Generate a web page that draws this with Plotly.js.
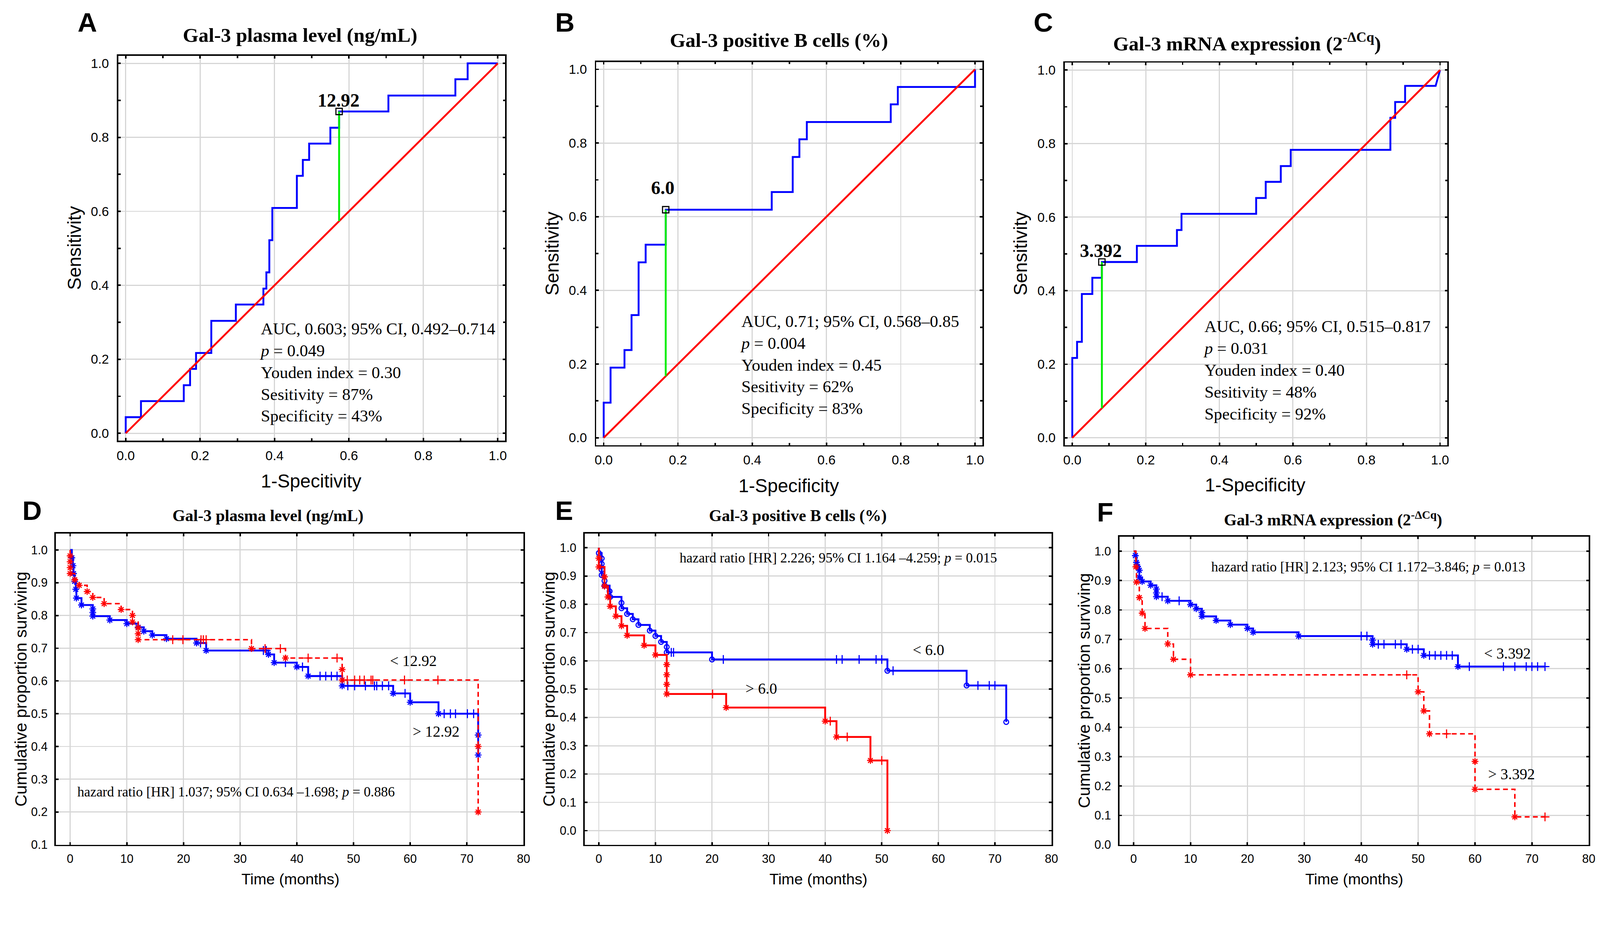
<!DOCTYPE html>
<html>
<head>
<meta charset="utf-8">
<script src="https://cdn.plot.ly/plotly-3.0.1.min.js"></script>
<style>html,body{margin:0;padding:0;background:#fff;overflow:hidden}#chart{width:4288px;height:2409px;transform-origin:0 0}</style>
</head>
<body>
<div id="chart"></div>
<script>
// ---------------- DATA ----------------
// ROC A: Gal-3 plasma level
const rocA_fpr = [0, 0.041, 0.156, 0.173, 0.189, 0.230, 0.296, 0.370, 0.378, 0.386, 0.394, 0.460, 0.476, 0.493, 0.550, 0.5735, 0.706, 0.886, 0.919, 1.0];
const rocA_tpr = [0, 0.0435, 0.087, 0.130, 0.174, 0.217, 0.304, 0.348, 0.391, 0.435, 0.522, 0.609, 0.696, 0.739, 0.783, 0.826, 0.870, 0.913, 0.957, 1.0];
const cutA_fpr = 0.5735, cutA_tpr = 0.870, cutA_label = '12.92';
const statsA = ['AUC, 0.603; 95% CI, 0.492\u20130.714', '<i>p</i> = 0.049', 'Youden index = 0.30', 'Sesitivity = 87%', 'Specificity = 43%'];
// ROC B: Gal-3 positive B cells
const rocB_fpr = [0, 0.0185, 0.056, 0.075, 0.094, 0.113, 0.167, 0.4525, 0.509, 0.527, 0.547, 0.773, 0.792, 1.0, 1.0];
const rocB_tpr = [0, 0.0952, 0.1905, 0.238, 0.333, 0.476, 0.524, 0.619, 0.667, 0.762, 0.810, 0.857, 0.905, 0.952, 1.0];
const cutB_fpr = 0.167, cutB_tpr = 0.619, cutB_label = '6.0';
const statsB = ['AUC, 0.71; 95% CI, 0.568\u20130.85', '<i>p</i> = 0.004', 'Youden index = 0.45', 'Sesitivity = 62%', 'Specificity = 83%'];
// ROC C: Gal-3 mRNA expression
const rocC_fpr = [0, 0.013, 0.026, 0.0545, 0.0805, 0.1756, 0.2846, 0.297, 0.500, 0.526, 0.567, 0.594, 0.865, 0.878, 0.905, 0.988, 1.0];
const rocC_tpr = [0, 0.217, 0.261, 0.391, 0.435, 0.478, 0.522, 0.565, 0.609, 0.652, 0.696, 0.739, 0.783, 0.870, 0.913, 0.957, 1.0];
const cutC_fpr = 0.0805, cutC_tpr = 0.478, cutC_label = '3.392';
const statsC = ['AUC, 0.66; 95% CI, 0.515\u20130.817', '<i>p</i> = 0.031', 'Youden index = 0.40', 'Sesitivity = 48%', 'Specificity = 92%'];
const diagRef = [0, 1];

// KM D: Gal-3 plasma level
const kmD_hi_t = [0, 0.3, 0.5, 0.6, 0.8, 1.0, 1.1, 2.0, 4.0, 4.0, 4.0, 7.0, 10.0, 12.0, 13.0, 14.5, 17.0, 22.3, 24.0, 35.0, 36.0, 40.0, 42.0, 48.0, 57.0, 60.0, 65.0, 72.0, 72.0];
const kmD_hi_s = [1.0, 0.976, 0.952, 0.928, 0.904, 0.880, 0.853, 0.832, 0.820, 0.809, 0.798, 0.786, 0.775, 0.764, 0.752, 0.740, 0.729, 0.716, 0.693, 0.681, 0.656, 0.643, 0.615, 0.585, 0.562, 0.535, 0.500, 0.435, 0.374];
const kmD_hi_cens = [23.0, 34.1, 34.6, 38.0, 41.0, 44.1, 45.1, 46.1, 47.1, 49.0, 50.2, 52.1, 53.7, 54.1, 55.1, 56.2, 59.1, 66.0, 67.1, 68.0, 70.1, 71.2];
const kmD_hi_end = 72.0;
const kmD_lo_t = [0, 0, 0, 0, 0, 0.8, 1.6, 3.0, 4.0, 6.0, 9.0, 11.0, 11.0, 12.0, 12.0, 12.0, 32.0, 38.0, 48.0, 48.0, 72.0, 72.0];
const kmD_lo_s = [1.0, 0.982, 0.964, 0.946, 0.928, 0.909, 0.892, 0.873, 0.855, 0.836, 0.818, 0.800, 0.780, 0.762, 0.744, 0.726, 0.699, 0.670, 0.635, 0.603, 0.400, 0.200];
const kmD_lo_cens = [18.1, 19.9, 23.1, 23.5, 24.0, 34.4, 37.1, 42.0, 47.1, 48.9, 50.2, 51.1, 51.9, 53.1, 53.4, 59.0, 64.9];
const kmD_lo_end = 72.0;
const hrD = 'hazard ratio [HR] 1.037; 95% CI 0.634 \u20131.698; <i>p</i> = 0.886';
const grpD = ['< 12.92', '> 12.92'];

// KM E: Gal-3 positive B cells
const kmE_lo_t = [0, 0, 0.5, 0.5, 0.5, 0.5, 1.0, 1.0, 1.9, 2.0, 4.0, 4.0, 5.0, 6.0, 7.0, 9.0, 10.0, 11.0, 12.0, 12.0, 20.0, 51.0, 65.0, 72.0];
const kmE_lo_s = [1.0, 0.981, 0.962, 0.943, 0.922, 0.903, 0.883, 0.866, 0.846, 0.826, 0.805, 0.786, 0.766, 0.747, 0.727, 0.707, 0.688, 0.667, 0.649, 0.630, 0.605, 0.565, 0.513, 0.384];
const kmE_lo_cens = [12.8, 13.2, 22.0, 42.0, 43.0, 46.0, 49.0, 50.0, 52.0, 67.0, 69.0, 70.0];
const kmE_lo_end = 72.0;
const kmE_hi_t = [0, 0, 0, 1.0, 1.0, 1.6, 2.0, 3.0, 4.0, 5.0, 8.0, 10.0, 12.0, 12.0, 12.0, 12.0, 22.5, 40.0, 42.0, 48.0, 51.0];
const kmE_hi_s = [1.0, 0.963, 0.932, 0.897, 0.864, 0.826, 0.793, 0.758, 0.724, 0.690, 0.655, 0.621, 0.587, 0.551, 0.517, 0.483, 0.435, 0.387, 0.331, 0.248, 0.0];
const kmE_hi_cens = [20.1, 40.9, 43.9, 50.0];
const kmE_hi_end = 51.0;
const hrE = 'hazard ratio [HR] 2.226; 95% CI 1.164 \u20134.259; <i>p</i> = 0.015';
const grpE = ['< 6.0', '> 6.0'];

// KM F: Gal-3 mRNA expression
const kmF_lo_t = [0, 0.3, 0.5, 0.7, 1.0, 1.0, 1.5, 3.0, 4.0, 4.0, 4.0, 6.0, 10.0, 11.0, 12.0, 12.0, 14.5, 17.0, 20.0, 21.0, 29.0, 42.0, 42.0, 48.0, 51.0, 57.0];
const kmF_lo_s = [1.0, 0.985, 0.962, 0.948, 0.935, 0.911, 0.897, 0.884, 0.871, 0.858, 0.845, 0.831, 0.818, 0.804, 0.791, 0.778, 0.764, 0.750, 0.737, 0.724, 0.711, 0.697, 0.683, 0.666, 0.645, 0.607];
const kmF_lo_cens = [5.0, 8.0, 40.0, 41.0, 43.0, 44.0, 46.0, 47.0, 49.0, 50.0, 52.0, 53.0, 54.0, 55.0, 56.0, 59.0, 65.0, 67.0, 69.0, 70.0, 71.0, 72.3];
const kmF_lo_end = 72.3;
const kmF_hi_t = [0, 0.4, 0.5, 1.0, 1.5, 2.0, 6.0, 7.0, 10.0, 50.0, 51.0, 52.0, 60.0, 60.0, 67.0];
const kmF_hi_s = [1.0, 0.947, 0.895, 0.842, 0.789, 0.737, 0.684, 0.632, 0.579, 0.521, 0.456, 0.378, 0.284, 0.189, 0.095];
const kmF_hi_cens = [48.0, 55.0, 72.3];
const kmF_hi_end = 72.3;
const hrF = 'hazard ratio [HR] 2.123; 95% CI 1.172\u20133.846; <i>p</i> = 0.013';
const grpF = ['< 3.392', '> 3.392'];

const titlesROC = ['Gal-3 plasma level (ng/mL)', 'Gal-3 positive B cells (%)', 'Gal-3 mRNA expression (2<sup>-\u0394Cq</sup>)'];
const titlesKM = titlesROC;
const letters = ['A', 'B', 'C', 'D', 'E', 'F'];
const rocXTitles = ['1-Specitivity', '1-Specificity', '1-Specificity'];

// ---------------- STYLE ----------------
const W = 4288, H = 2409;
const BLUE = '#0000ff', RED = '#ff0000', GREEN = '#00ee00', GRID = '#d6d6d6';
const SANS = 'Liberation Sans, Arial, sans-serif';
const SERIF = 'Liberation Serif, Times New Roman, serif';
const px = x => x / W, py = y => 1 - y / H;

// panel boxes in pixels [left, right, top, bottom]
const boxes = [
  [317, 1354, 150, 1181], [1598, 2633, 166, 1193], [2854, 3879, 168, 1193],
  [150, 1403, 1430, 2264], [1567, 2818, 1430, 2264], [3000, 4258, 1438, 2264]
];

function stepPath(fx, ty, diagLast) {
  const X = [fx[0]], Y = [ty[0]], n = fx.length;
  for (let i = 1; i < n; i++) {
    if (diagLast && i === n - 1) { X.push(fx[i]); Y.push(ty[i]); }
    else { X.push(fx[i - 1]); Y.push(ty[i]); X.push(fx[i]); Y.push(ty[i]); }
  }
  return { X, Y };
}
function stepAt(t, s, x) {
  let v = s[0];
  for (let i = 0; i < t.length; i++) if (t[i] <= x) v = s[i];
  return v;
}

const traces = [];
function addROC(k, fpr, tpr, diagLast, cx, cy) {
  const xa = 'x' + (k === 1 ? '' : k), ya = 'y' + (k === 1 ? '' : k);
  const p = stepPath(fpr, tpr, diagLast);
  traces.push({ x: p.X, y: p.Y, xaxis: xa, yaxis: ya, mode: 'lines', line: { color: BLUE, width: 5 } });
  traces.push({ x: diagRef, y: diagRef, xaxis: xa, yaxis: ya, mode: 'lines', line: { color: RED, width: 5 }, hoverinfo: 'skip' });
  traces.push({ x: [cx, cx], y: [cx, cy], xaxis: xa, yaxis: ya, mode: 'lines', line: { color: GREEN, width: 5 } });
  traces.push({ x: [cx], y: [cy], xaxis: xa, yaxis: ya, mode: 'markers', marker: { symbol: 'square-open', size: 17, color: '#000', line: { color: '#000', width: 3 } } });
}
addROC(1, rocA_fpr, rocA_tpr, false, cutA_fpr, cutA_tpr);
addROC(2, rocB_fpr, rocB_tpr, false, cutB_fpr, cutB_tpr);
addROC(3, rocC_fpr, rocC_tpr, true, cutC_fpr, cutC_tpr);

function addKM(k, t, s, cens, tEnd, color, dash, evSym, width) {
  const xa = 'x' + k, ya = 'y' + k;
  const X = t.slice(), Y = s.slice();
  if (tEnd > t[t.length - 1]) { X.push(tEnd); Y.push(s[s.length - 1]); }
  traces.push({ x: X, y: Y, xaxis: xa, yaxis: ya, mode: 'lines', line: { shape: 'hv', color: color, width: width, dash: dash } });
  traces.push({ x: t.slice(1), y: s.slice(1), xaxis: xa, yaxis: ya, mode: 'markers',
    marker: { symbol: evSym, size: evSym === 'circle-open' ? 13 : 15, color: color, line: { color: color, width: 3 } } });
  traces.push({ x: cens, y: cens.map(c => stepAt(t, s, c)), xaxis: xa, yaxis: ya, mode: 'markers',
    marker: { symbol: 'cross-thin-open', size: 17, color: color, line: { color: color, width: 3 } } });
}
const DASH = '13px,9px';
addKM(4, kmD_hi_t, kmD_hi_s, kmD_hi_cens, kmD_hi_end, BLUE, 'solid', 'asterisk-open', 5);
addKM(4, kmD_lo_t, kmD_lo_s, kmD_lo_cens, kmD_lo_end, RED, DASH, 'asterisk-open', 4);
addKM(5, kmE_lo_t, kmE_lo_s, kmE_lo_cens, kmE_lo_end, BLUE, 'solid', 'circle-open', 5);
addKM(5, kmE_hi_t, kmE_hi_s, kmE_hi_cens, kmE_hi_end, RED, 'solid', 'asterisk-open', 5);
addKM(6, kmF_lo_t, kmF_lo_s, kmF_lo_cens, kmF_lo_end, BLUE, 'solid', 'asterisk-open', 5);
addKM(6, kmF_hi_t, kmF_hi_s, kmF_hi_cens, kmF_hi_end, RED, DASH, 'asterisk-open', 4);

// ---------------- LAYOUT ----------------
function axisBase(extra) {
  return Object.assign({ showgrid: true, gridcolor: GRID, gridwidth: 3, zeroline: false, showline: true, linecolor: '#000', linewidth: 4,
    mirror: 'ticks', ticks: 'inside', ticklen: 7, tickwidth: 4, tickcolor: '#000', fixedrange: true }, extra);
}
const layout = { width: W, height: H, margin: { l: 0, r: 0, t: 0, b: 0 }, showlegend: false,
  paper_bgcolor: '#fff', plot_bgcolor: '#fff', annotations: [] };

for (let k = 1; k <= 6; k++) {
  const b = boxes[k - 1];
  const sfx = k === 1 ? '' : k;
  const isROC = k <= 3;
  const xd = [px(b[0]), px(b[1])], yd = [py(b[3]), py(b[2])];
  if (isROC) {
    const minor = { dtick: 0.1, tick0: 0, ticks: 'inside', ticklen: 6, tickwidth: 4, tickcolor: '#000', showgrid: false };
    layout['xaxis' + sfx] = axisBase({ domain: xd, anchor: 'y' + sfx, range: [-0.02, 1.02], dtick: 0.2, tick0: 0, tickformat: '.1f', minor: minor,
      tickfont: { family: SANS, size: 35, color: '#000' }, ticklabelstandoff: 6 });
    layout['yaxis' + sfx] = axisBase({ domain: yd, anchor: 'x' + sfx, range: [-0.02, 1.02], dtick: 0.2, tick0: 0, tickformat: '.1f', minor: minor,
      tickfont: { family: SANS, size: 35, color: '#000' }, ticklabelstandoff: 14 });
  } else {
    const yr = k === 4 ? [0.1, 1.05] : (k === 5 ? [-0.05, 1.05] : [0, 1.05]);
    layout['xaxis' + sfx] = axisBase({ domain: xd, anchor: 'y' + sfx, range: [-2.5, 80], dtick: 10, tick0: 0,
      tickfont: { family: SANS, size: 32, color: '#000' }, ticklabelstandoff: 6 });
    layout['yaxis' + sfx] = axisBase({ domain: yd, anchor: 'x' + sfx, range: yr, dtick: 0.1, tick0: 0, tickformat: '.1f',
      tickfont: { family: SANS, size: 32, color: '#000' }, ticklabelstandoff: 12 });
  }
}

const ann = layout.annotations;
function A(o) { ann.push(Object.assign({ showarrow: false, font: { color: '#000' } }, o)); }

// panel letters
const letterPos = [[234, 60], [1514, 60], [2796, 60], [86, 1368], [1512, 1368], [2962, 1373]];
letters.forEach((L, i) => A({ text: L, xref: 'paper', yref: 'paper', x: px(letterPos[i][0]), y: py(letterPos[i][1]), xanchor: 'center', yanchor: 'middle',
  font: { family: SANS, size: 72, color: '#000', weight: 'bold' } }));
// titles
const titlePos = [[804, 94], [2087, 108], [3342, 112], [718, 1382], [2138, 1382], [3572, 1390]];
titlesROC.forEach((t, i) => A({ text: '<b>' + t + '</b>', xref: 'paper', yref: 'paper', x: px(titlePos[i][0]), y: py(titlePos[i][1]), xanchor: 'center', yanchor: 'middle',
  font: { family: SERIF, size: 54, color: '#000' } }));
titlesKM.forEach((t, i) => A({ text: '<b>' + t + '</b>', xref: 'paper', yref: 'paper', x: px(titlePos[i + 3][0]), y: py(titlePos[i + 3][1]), xanchor: 'center', yanchor: 'middle',
  font: { family: SERIF, size: 44, color: '#000' } }));
// axis titles
const xtPos = [[834, 1290], [2114, 1302], [3364, 1300], [778, 2356], [2193, 2356], [3629, 2356]];
const ytPos = [[200, 665], [1480, 680], [2735, 680], [55, 1847], [1471, 1847], [2905, 1851]];
for (let i = 0; i < 6; i++) {
  const isROC = i < 3;
  A({ text: isROC ? rocXTitles[i] : 'Time (months)', xref: 'paper', yref: 'paper', x: px(xtPos[i][0]), y: py(xtPos[i][1]), xanchor: 'center', yanchor: 'middle',
    font: { family: SANS, size: isROC ? 50 : 41, color: '#000' } });
  A({ text: isROC ? 'Sensitivity' : 'Cumulative proportion surviving', xref: 'paper', yref: 'paper', x: px(ytPos[i][0]), y: py(ytPos[i][1]), xanchor: 'center', yanchor: 'middle',
    textangle: -90, font: { family: SANS, size: isROC ? 50 : 45, color: '#000' } });
}
// ROC statistics and cutoff labels
const statsPos = [[0.358, 0.31], [0.366, 0.344], [0.354, 0.33]];
[statsA, statsB, statsC].forEach((s, i) => {
  const sfx = i === 0 ? '' : (i + 1);
  A({ text: s.join('<br>'), xref: 'x' + sfx, yref: 'y' + sfx, x: statsPos[i][0], y: statsPos[i][1], xanchor: 'left', yanchor: 'top', align: 'left',
    font: { family: SERIF, size: 45, color: '#000' } });
});
const cutLab = [[cutA_label, 0.572, 0.90], [cutB_label, 0.159, 0.679], [cutC_label, 0.078, 0.509]];
cutLab.forEach((c, i) => {
  const sfx = i === 0 ? '' : (i + 1);
  A({ text: '<b>' + c[0] + '</b>', xref: 'x' + sfx, yref: 'y' + sfx, x: c[1], y: c[2], xanchor: 'center', yanchor: 'middle',
    font: { family: SERIF, size: 50, color: '#000' } });
});
// KM annotations
A({ text: hrD, xref: 'x4', yref: 'y4', x: 1.1, y: 0.261, xanchor: 'left', yanchor: 'middle', font: { family: SERIF, size: 37, color: '#000' } });
A({ text: hrE, xref: 'x5', yref: 'y5', x: 14.1, y: 0.964, xanchor: 'left', yanchor: 'middle', font: { family: SERIF, size: 37, color: '#000' } });
A({ text: hrF, xref: 'x6', yref: 'y6', x: 13.5, y: 0.946, xanchor: 'left', yanchor: 'middle', font: { family: SERIF, size: 37, color: '#000' } });
const grpPos = [[grpD, 4, 60.6, 0.662, 64.6, 0.446], [grpE, 5, 58.3, 0.638, 28.7, 0.503], [grpF, 6, 65.7, 0.652, 66.4, 0.240]];
grpPos.forEach(g => {
  A({ text: g[0][0].replace('<', '&lt;'), xref: 'x' + g[1], yref: 'y' + g[1], x: g[2], y: g[3], xanchor: 'center', yanchor: 'middle', font: { family: SERIF, size: 41, color: '#000' } });
  A({ text: g[0][1].replace('>', '&gt;'), xref: 'x' + g[1], yref: 'y' + g[1], x: g[4], y: g[5], xanchor: 'center', yanchor: 'middle', font: { family: SERIF, size: 41, color: '#000' } });
});

// fit the 4288x2409 design into the actual viewport (handles device pixel ratio != 1)
const chartDiv = document.getElementById('chart');
const fit = Math.min(window.innerWidth / W, window.innerHeight / H);
if (fit > 0 && Math.abs(fit - 1) > 0.002) chartDiv.style.transform = 'scale(' + fit + ')';

Plotly.newPlot('chart', traces, layout, { staticPlot: true, displayModeBar: false });
</script>
</body>
</html>
